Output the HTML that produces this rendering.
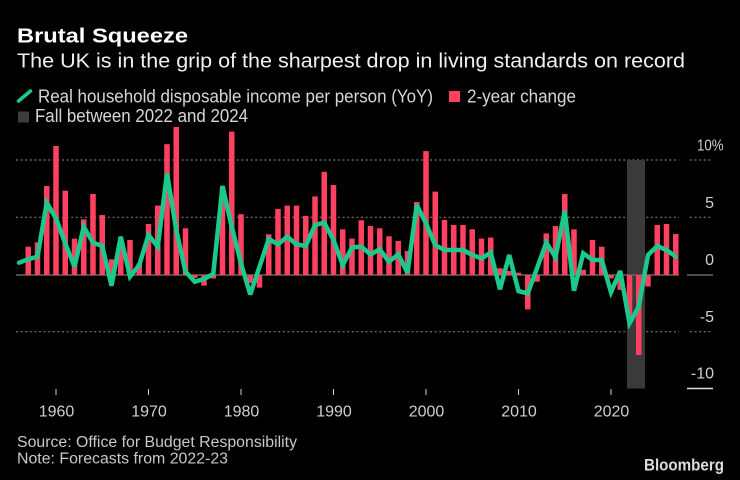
<!DOCTYPE html>
<html><head><meta charset="utf-8"><style>
html,body{margin:0;padding:0;background:#000;}
svg{display:block;}
text{font-family:"Liberation Sans",sans-serif;}
</style></head><body>
<svg width="740" height="480" viewBox="0 0 740 480" xmlns="http://www.w3.org/2000/svg">
<rect width="740" height="480" fill="#000"/>
<!-- titles -->
<text x="17" y="42.7" font-size="20" font-weight="bold" fill="#ffffff" textLength="171" lengthAdjust="spacingAndGlyphs">Brutal Squeeze</text>
<text x="17" y="67.6" font-size="20.5" fill="#f0f0f0" textLength="668" lengthAdjust="spacingAndGlyphs">The UK is in the grip of the sharpest drop in living standards on record</text>
<!-- legend -->
<line x1="18.5" y1="101" x2="30.5" y2="91" stroke="#1cc98c" stroke-width="3.6" stroke-linecap="round"/>
<text x="38" y="102.3" font-size="18" fill="#d6d6d6" textLength="395" lengthAdjust="spacingAndGlyphs">Real household disposable income per person (YoY)</text>
<rect x="449" y="91" width="11" height="11" fill="#ff4060"/>
<text x="467" y="102.3" font-size="18" fill="#d6d6d6" textLength="109" lengthAdjust="spacingAndGlyphs">2-year change</text>
<rect x="18" y="111.5" width="11" height="11" fill="#3d3d3d"/>
<text x="35" y="122.2" font-size="18" fill="#d6d6d6" textLength="213" lengthAdjust="spacingAndGlyphs">Fall between 2022 and 2024</text>

<!-- gridlines -->
<g stroke="#777" stroke-width="1.2" stroke-dasharray="2 2.6">
<line x1="16" y1="160" x2="679" y2="160"/>
<line x1="690" y1="160" x2="713" y2="160"/>
<line x1="16" y1="217.3" x2="679" y2="217.3"/>
<line x1="690" y1="217.3" x2="713" y2="217.3"/>
<line x1="16" y1="331.7" x2="679" y2="331.7"/>
<line x1="690" y1="331.7" x2="713" y2="331.7"/>
</g>
<!-- band -->
<rect x="627" y="160" width="18" height="228.5" fill="#3a3a3a"/>
<!-- zero line -->
<line x1="16" y1="275" x2="679" y2="275" stroke="#666" stroke-width="1.5"/>
<line x1="687" y1="275" x2="713" y2="275" stroke="#666" stroke-width="1.5"/>
<line x1="687" y1="388.5" x2="713" y2="388.5" stroke="#ddd" stroke-width="1.5"/>

<!-- bars -->
<g fill="#ff4060">
<rect x="25.5" y="246.7" width="5.5" height="28.3"/>
<rect x="34.75" y="242.3" width="5.5" height="32.7"/>
<rect x="44" y="186" width="5.5" height="89"/>
<rect x="53.25" y="146" width="5.5" height="129"/>
<rect x="62.5" y="190.7" width="5.5" height="84.3"/>
<rect x="71.75" y="238.6" width="5.5" height="36.4"/>
<rect x="81" y="219.4" width="5.5" height="55.6"/>
<rect x="90.25" y="194" width="5.5" height="81"/>
<rect x="99.5" y="215" width="5.5" height="60"/>
<rect x="108.75" y="259.3" width="5.5" height="15.7"/>
<rect x="118" y="247.5" width="5.5" height="27.5"/>
<rect x="127.25" y="240" width="5.5" height="35"/>
<rect x="136.5" y="263.5" width="5.5" height="11.5"/>
<rect x="145.75" y="224" width="5.5" height="51"/>
<rect x="155" y="205.6" width="5.5" height="69.4"/>
<rect x="164.25" y="144.2" width="5.5" height="130.8"/>
<rect x="173.5" y="127" width="5.5" height="148"/>
<rect x="182.75" y="228.3" width="5.5" height="46.7"/>
<rect x="192" y="275" width="5.5" height="2.9"/>
<rect x="201.25" y="275" width="5.5" height="10.7"/>
<rect x="210.5" y="275" width="5.5" height="3.4"/>
<rect x="219.75" y="186.7" width="5.5" height="88.3"/>
<rect x="229" y="131.6" width="5.5" height="143.4"/>
<rect x="238.25" y="214.2" width="5.5" height="60.8"/>
<rect x="247.5" y="275" width="5.5" height="8"/>
<rect x="256.75" y="275" width="5.5" height="12.6"/>
<rect x="266" y="234.3" width="5.5" height="40.7"/>
<rect x="275.25" y="209" width="5.5" height="66"/>
<rect x="284.5" y="205.6" width="5.5" height="69.4"/>
<rect x="293.75" y="205.6" width="5.5" height="69.4"/>
<rect x="303" y="215.9" width="5.5" height="59.1"/>
<rect x="312.25" y="196.4" width="5.5" height="78.6"/>
<rect x="321.5" y="171.8" width="5.5" height="103.2"/>
<rect x="330.75" y="185" width="5.5" height="90"/>
<rect x="340" y="229.3" width="5.5" height="45.7"/>
<rect x="349.25" y="238.6" width="5.5" height="36.4"/>
<rect x="358.5" y="220.3" width="5.5" height="54.7"/>
<rect x="367.75" y="226" width="5.5" height="49"/>
<rect x="377" y="228.3" width="5.5" height="46.7"/>
<rect x="386.25" y="236.3" width="5.5" height="38.7"/>
<rect x="395.5" y="241" width="5.5" height="34"/>
<rect x="404.75" y="251" width="5.5" height="24"/>
<rect x="414" y="202" width="5.5" height="73"/>
<rect x="423.25" y="151.1" width="5.5" height="123.9"/>
<rect x="432.5" y="191.6" width="5.5" height="83.4"/>
<rect x="441.75" y="220" width="5.5" height="55"/>
<rect x="451" y="225" width="5.5" height="50"/>
<rect x="460.25" y="225" width="5.5" height="50"/>
<rect x="469.5" y="229.3" width="5.5" height="45.7"/>
<rect x="478.75" y="238.6" width="5.5" height="36.4"/>
<rect x="488" y="237.6" width="5.5" height="37.4"/>
<rect x="497.25" y="268.3" width="5.5" height="6.7"/>
<rect x="506.5" y="271" width="5.5" height="4"/>
<rect x="515.75" y="272.7" width="5.5" height="2.3"/>
<rect x="525" y="275" width="5.5" height="34.4"/>
<rect x="534.25" y="275" width="5.5" height="6.7"/>
<rect x="543.5" y="233.4" width="5.5" height="41.6"/>
<rect x="552.75" y="226" width="5.5" height="49"/>
<rect x="562" y="194" width="5.5" height="81"/>
<rect x="571.25" y="229.3" width="5.5" height="45.7"/>
<rect x="580.5" y="269.8" width="5.5" height="5.2"/>
<rect x="589.75" y="240" width="5.5" height="35"/>
<rect x="599" y="246.7" width="5.5" height="28.3"/>
<rect x="608.25" y="275" width="5.5" height="3.4"/>
<rect x="617.5" y="275" width="5.5" height="14.9"/>
<rect x="626.75" y="275" width="5.5" height="44.2"/>
<rect x="636" y="275" width="5.5" height="80"/>
<rect x="645.25" y="275" width="5.5" height="11.5"/>
<rect x="654.5" y="225" width="5.5" height="50"/>
<rect x="663.75" y="224" width="5.5" height="51"/>
<rect x="673" y="234" width="5.5" height="41"/>
</g>

<!-- line -->
<polyline fill="none" stroke="#1cc98c" stroke-width="4.5" stroke-linejoin="miter" stroke-miterlimit="3" stroke-linecap="round"
points="19,262.7 28.25,259.3 37.5,256.6 46.75,202.7 56,218.3 65.25,243.3 74.5,266.7 83.75,226.8 93,242.7 102.25,246 111.5,285.7 120.75,236.7 130,276.6 139.25,265 148.5,235 157.75,246.7 167,173.3 176.25,230 185.5,271.7 194.75,281.7 204,279 213.25,274 222.5,186 231.75,226.8 241,263.5 250.25,294.5 259.5,266.7 268.75,239 278,244.4 287.25,236.7 296.5,244.4 305.75,246 315,225 324.25,222.7 333.5,240 342.75,265 352,247.4 361.25,246.7 370.5,254.4 379.75,249.3 389,261.7 398.25,254.4 407.5,272.7 416.75,205 426,223.4 435.25,245.2 444.5,250 453.75,250 463,250 472.25,255 481.5,258.4 490.75,252.6 500,289.3 509.25,255 518.5,291.1 527.75,293.4 537,268.3 546.25,242.7 555.5,257.3 564.75,210.8 574,290.7 583.25,253.3 592.5,260 601.75,260 611,292.2 620.25,271 629.5,323.2 638.75,306.7 648,255 657.25,246 666.5,250 675.75,256.6"/>

<!-- y labels -->
<g font-size="16" fill="#cfcfcf">
<text x="697" y="150.5" textLength="26.6" lengthAdjust="spacingAndGlyphs">10%</text>
<text x="714" y="208" text-anchor="end">5</text>
<text x="714" y="265" text-anchor="end">0</text>
<text x="714" y="322.2" text-anchor="end">-5</text>
<text x="714" y="378.4" text-anchor="end">-10</text>
</g>

<!-- x ticks -->
<g stroke="#cfcfcf" stroke-width="1">
<line x1="56" y1="389" x2="56" y2="395"/>
<line x1="148.5" y1="389" x2="148.5" y2="395"/>
<line x1="241" y1="389" x2="241" y2="395"/>
<line x1="333.5" y1="389" x2="333.5" y2="395"/>
<line x1="426" y1="389" x2="426" y2="395"/>
<line x1="518.5" y1="389" x2="518.5" y2="395"/>
<line x1="611" y1="389" x2="611" y2="395"/>
</g>
<g font-size="16" fill="#cfcfcf" text-anchor="middle">
<text x="56.5" y="416.7">1960</text>
<text x="149" y="416.7">1970</text>
<text x="241.5" y="416.7">1980</text>
<text x="334" y="416.7">1990</text>
<text x="426.5" y="416.7">2000</text>
<text x="519" y="416.7">2010</text>
<text x="611.5" y="416.7">2020</text>
</g>

<!-- footer -->
<text x="17" y="447" font-size="15.5" fill="#c8c8c8" textLength="280" lengthAdjust="spacingAndGlyphs">Source: Office for Budget Responsibility</text>
<text x="17" y="463.3" font-size="15.5" fill="#c8c8c8" textLength="211" lengthAdjust="spacingAndGlyphs">Note: Forecasts from 2022-23</text>
<text x="644" y="470.5" font-size="16.5" font-weight="bold" fill="#dcdcdc" textLength="80" lengthAdjust="spacingAndGlyphs">Bloomberg</text>
</svg>
</body></html>
